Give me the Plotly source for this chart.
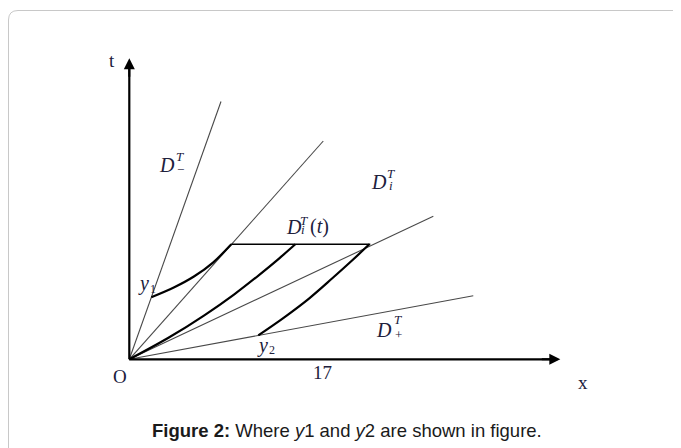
import plotly.graph_objects as go

# ---- data (abstract x / t units, origin at O) ----
ray_end_x = [9.17, 19.4, 30.4, 34.4]
ray_end_t = [25.78, 21.83, 14.3, 6.36]

curve_a_x = [2.2, 4.5, 6.5, 8.4, 10.2]
curve_a_t = [6.2, 7.2, 8.3, 9.7, 11.5]
curve_b_x = [0.0, 4.0, 7.5, 10.5, 13.0, 15.0, 16.6]
curve_b_t = [0.0, 2.2, 4.4, 6.5, 8.45, 10.1, 11.5]
curve_c_x = [12.9, 15.5, 18.0, 20.3, 22.3, 24.0]
curve_c_t = [2.4, 4.2, 6.1, 8.1, 9.9, 11.5]
level_x = [10.2, 24.1]
level_t = [11.5, 11.5]

x_axis_end = 43.1
t_axis_end = 30.1
tick_value = 19.3
tick_label = "17"

MATH = "Liberation Serif"
TXT = "#20203c"

# page has an 8px body margin: figure occupies page pixels 8..681, 8..448
OFF = 8
W, H = 681 - OFF, 448 - OFF

fig = go.Figure()

# rays from origin
for ex, et in zip(ray_end_x, ray_end_t):
    fig.add_trace(go.Scatter(x=[0, ex], y=[0, et], mode="lines",
                             line=dict(color="#484848", width=1.1),
                             hoverinfo="skip", showlegend=False))

# level segment
fig.add_trace(go.Scatter(x=level_x, y=level_t, mode="lines",
                         line=dict(color="black", width=1.4),
                         hoverinfo="skip", showlegend=False))

# characteristic curves
for cx, ct in [(curve_a_x, curve_a_t), (curve_b_x, curve_b_t), (curve_c_x, curve_c_t)]:
    fig.add_trace(go.Scatter(x=cx, y=ct, mode="lines",
                             line=dict(color="black", width=2.2, shape="spline", smoothing=1),
                             hoverinfo="skip", showlegend=False))

# axes lines
fig.add_trace(go.Scatter(x=[0, x_axis_end - 0.8], y=[0, 0], mode="lines",
                         line=dict(color="black", width=2.2),
                         hoverinfo="skip", showlegend=False))
fig.add_trace(go.Scatter(x=[0, 0], y=[0, t_axis_end - 0.8], mode="lines",
                         line=dict(color="black", width=2.2),
                         hoverinfo="skip", showlegend=False))

ann = []
# arrowheads
ann.append(dict(x=x_axis_end, y=0, ax=x_axis_end - 2, ay=0, xref="x", yref="y",
                axref="x", ayref="y", text="", showarrow=True, arrowhead=2,
                arrowsize=1.1, arrowwidth=2, arrowcolor="black", standoff=0))
ann.append(dict(x=0, y=t_axis_end, ax=0, ay=t_axis_end - 2, xref="x", yref="y",
                axref="x", ayref="y", text="", showarrow=True, arrowhead=2,
                arrowsize=1.1, arrowwidth=2, arrowcolor="black", standoff=0))


def lab(x, y, text, size, family=MATH):
    ann.append(dict(x=x, y=y, xref="x", yref="y", text=text, showarrow=False,
                    font=dict(family=family, size=size, color=TXT),
                    xanchor="center", yanchor="middle"))


lab(-1.73, 29.9, "t", 19)
lab(-0.93, -1.7, "O", 19)
lab(tick_value, -1.3, tick_label, 19)
lab(45.4, -2.3, "x", 19)

# y1, y2
lab(1.4, 7.6, "<i>y</i>", 20)
lab(2.35, 7.0, "1", 12)
lab(13.3, 1.35, "<i>y</i>", 20)
lab(14.3, 0.9, "2", 12)

# D_-^T
lab(3.77, 19.43, "<i>D</i>", 20)
lab(5.05, 20.25, "<i>T</i>", 13)
lab(5.1, 19.0, "−", 13)
# D_i^T (upper)
lab(25.0, 17.75, "<i>D</i>", 20)
lab(26.2, 18.6, "<i>T</i>", 13)
lab(26.2, 17.35, "<i>i</i>", 13)
# D_i^T(t)
lab(16.45, 13.28, "<i>D</i>", 20)
lab(17.5, 13.9, "<i>T</i>", 13)
lab(17.4, 12.95, "<i>i</i>", 13)
lab(19.05, 13.28, "(<i>t</i>)", 20)
# D_+^T
lab(25.42, 2.93, "<i>D</i>", 20)
lab(26.9, 3.95, "<i>T</i>", 13)
lab(26.95, 2.45, "+", 13)


def px(P):
    return (P - OFF) / W


def py(P):
    return 1 - (P - OFF) / H


# caption
ann.append(dict(x=px(347), y=py(430), xref="paper", yref="paper",
                text="<b>Figure 2:</b> Where <i>y</i>1 and <i>y</i>2 are shown in figure.",
                showarrow=False, xanchor="center", yanchor="middle",
                font=dict(family="Liberation Sans", size=18.5, color="#1a1a1a")))

# rounded frame
frame = (f"M {px(8.5)},{py(460)} L {px(8.5)},{py(20)} Q {px(8.5)},{py(10.5)} {px(18)},{py(10.5)} "
         f"L {px(700)},{py(10.5)}")
shapes = [dict(type="path", path=frame, xref="paper", yref="paper",
               line=dict(color="#c8c8c8", width=1))]

fig.update_layout(
    width=W, height=H,
    margin=dict(l=0, r=0, t=0, b=0),
    paper_bgcolor="white", plot_bgcolor="white",
    xaxis=dict(range=[(OFF - 129.3) / 10, (681 - 129.3) / 10], visible=False, fixedrange=True),
    yaxis=dict(range=[(359.3 - 448) / 10, (359.3 - OFF) / 10], visible=False, fixedrange=True),
    annotations=ann, shapes=shapes,
)

fig.write_html("out.html")
